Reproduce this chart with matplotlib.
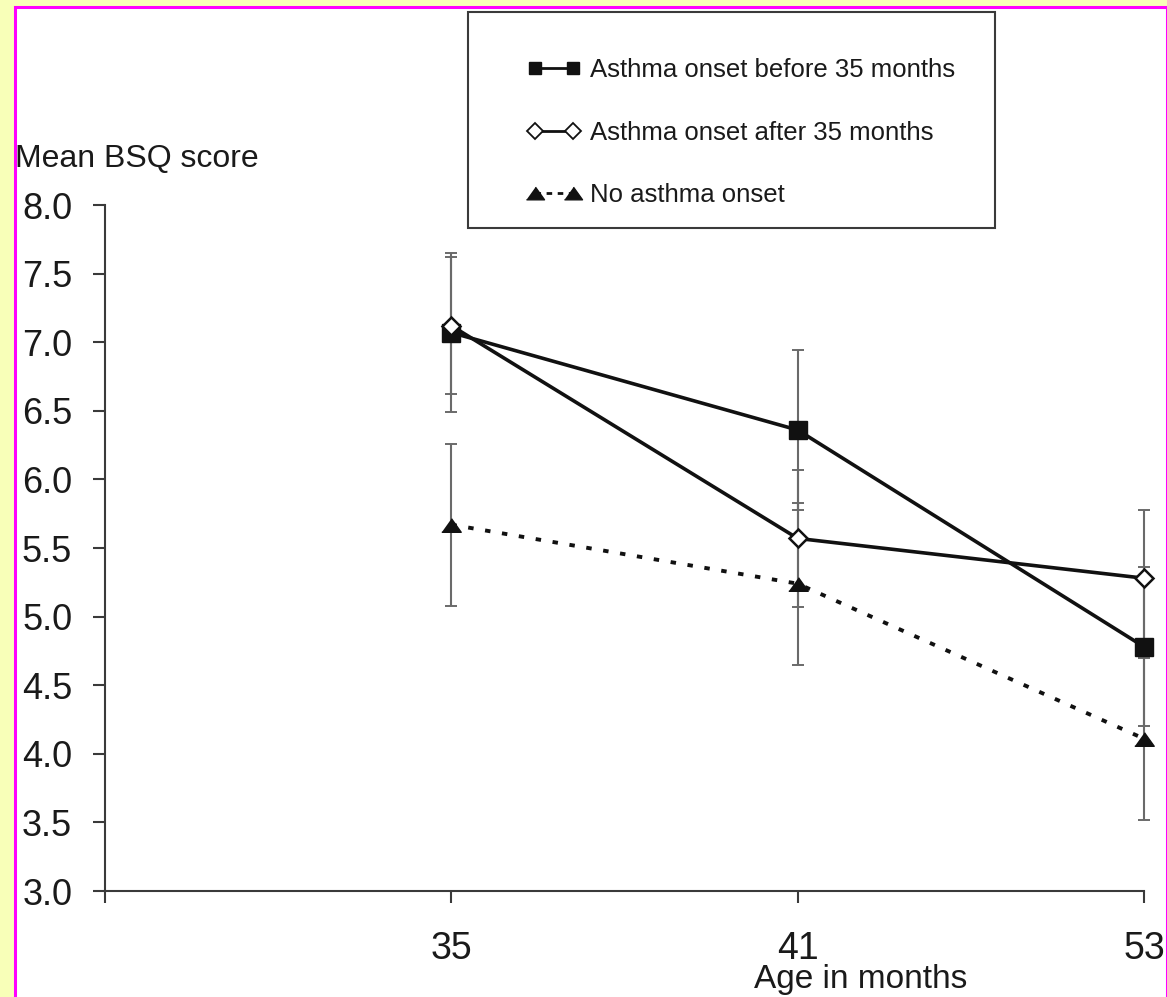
import matplotlib.pyplot as plt
from matplotlib.lines import Line2D
from matplotlib.patches import Rectangle

plt.rcParams['font.family'] = ['Liberation Sans', 'DejaVu Sans']

# Mean BSQ score by age group, with error bar half-widths
ages = ['35', '41', '53']
before_35 = [7.07, 6.36, 4.78]
before_35_err = [0.58, 0.58, 0.58]
after_35 = [7.12, 5.57, 5.28]
after_35_err = [0.50, 0.50, 0.50]
no_onset = [5.67, 5.24, 4.11]
no_onset_err = [0.59, 0.59, 0.59]
yticks = [3.0, 3.5, 4.0, 4.5, 5.0, 5.5, 6.0, 6.5, 7.0, 7.5, 8.0]
labels = ['Asthma onset before 35 months',
          'Asthma onset after 35 months',
          'No asthma onset']

W, H = 1167, 997
fig = plt.figure(figsize=(W / 100, H / 100), dpi=100, facecolor='#f8ffb8')

# white page with magenta frame
fig.add_artist(Rectangle((14.5 / W, -0.05), (1166.5 - 14.5) / W, 1.05 - 7.5 / H,
                         transform=fig.transFigure, facecolor='white',
                         edgecolor='#ff00ff', lw=2.2, zorder=0))

ax = fig.add_axes([105 / W, 106 / H, 1039 / W, 686 / H])
ax.set_facecolor('none')

x = [1, 2, 3]
ink = '#111111'
bar = '#6a6a6a'
tri = [(-1, -0.7), (1, -0.7), (0, 0.7)]

for vals, err in [(before_35, before_35_err), (after_35, after_35_err),
                  (no_onset, no_onset_err)]:
    ax.errorbar(x, vals, yerr=err, fmt='none', ecolor=bar, elinewidth=1.5,
                capsize=4.5, capthick=1.4, zorder=2, clip_on=False)

ax.plot(x, before_35, '-', color=ink, lw=2.6, marker='s', ms=12.5,
        mfc=ink, mec=ink, zorder=4, clip_on=False)
ax.plot(x, no_onset, color=ink, lw=2.8, ls=(0, (1.4, 3.0)), marker=tri, ms=14,
        mfc=ink, mec=ink, zorder=4, clip_on=False)
ax.plot(x, after_35, '-', color=ink, lw=2.6, marker='D', ms=9.5,
        mfc='white', mec=ink, mew=1.8, zorder=5, clip_on=False)

ax.set_xlim(0, 3)
ax.set_ylim(3, 8)
ax.set_xticks([0, 1, 2, 3])
ax.set_xticklabels([''] + ages)
ax.set_yticks(yticks)
ax.set_yticklabels([f'{v:.1f}' for v in yticks])
for s in ['top', 'right']:
    ax.spines[s].set_visible(False)
for s in ['left', 'bottom']:
    ax.spines[s].set_color('#3a3a3a')
    ax.spines[s].set_linewidth(1.5)
ax.tick_params(axis='both', direction='out', length=8.6, width=1.5,
               color='#3a3a3a', labelcolor='#1a1a1a')
ax.tick_params(axis='y', labelsize=26, pad=15)
ax.tick_params(axis='x', labelsize=27, pad=20)

fig.text(15 / W, 1 - 159 / H, 'Mean BSQ score', fontsize=23, ha='left',
         va='center', color='#1a1a1a')
fig.text(861 / W, 1 - 979 / H, 'Age in months', fontsize=24, ha='center',
         va='center', color='#1a1a1a')

# legend
handles = [
    Line2D([], [], color=ink, lw=2, marker='s', ms=9, mfc=ink, mec=ink),
    Line2D([], [], color=ink, lw=2, marker='D', ms=8, mfc='white', mec=ink, mew=1.3),
    Line2D([], [], color=ink, lw=2, ls=(0, (2, 2)), marker=tri, ms=13, mfc=ink, mec=ink),
]
fig.legend(handles, labels, loc='upper left', bbox_to_anchor=(527 / W, 1 - 58 / H),
           frameon=False, fontsize=18.5, handlelength=2.09, handletextpad=0.36,
           labelspacing=1.5, borderpad=0, borderaxespad=0, numpoints=2,
           labelcolor='#1a1a1a')
fig.add_artist(Rectangle((468 / W, 769 / H), 527 / W, 216 / H,
                         transform=fig.transFigure, fill=False,
                         edgecolor='#3a3a3a', lw=1.5))

fig.savefig('out.png', dpi=100, facecolor=fig.get_facecolor())
